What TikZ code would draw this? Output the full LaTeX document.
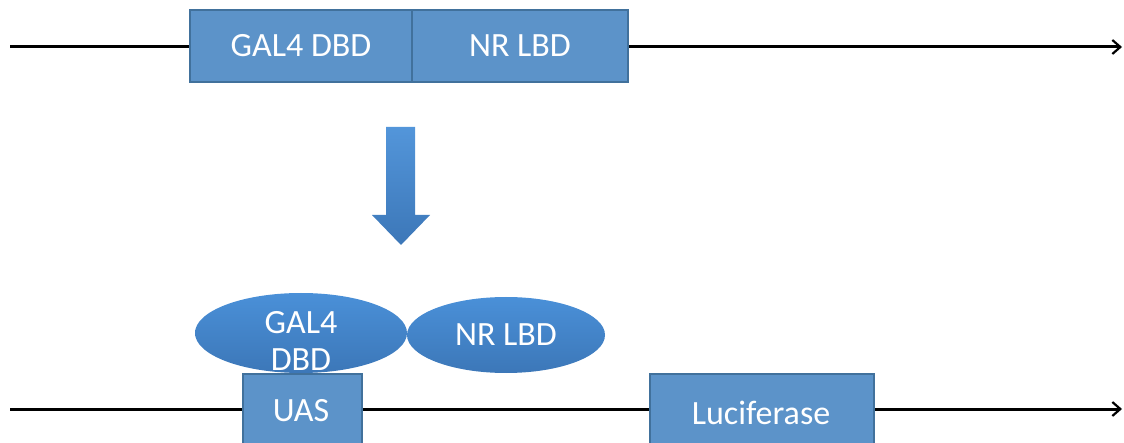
\documentclass[tikz,border=0pt]{standalone}
\usepackage{fontspec}
\setmainfont{Carlito}
\usetikzlibrary{arrows.meta,shapes.geometric}
\definecolor{boxfill}{HTML}{5C93C9}
\definecolor{boxedge}{HTML}{41719C}
\definecolor{elltop}{HTML}{4A90D8}
\definecolor{ellbot}{HTML}{3C77B8}
\tikzset{
  dna/.style={line width=3pt, draw=black, -{Straight Barb[length=8pt,width=14pt,line width=2.2pt]}},
  lab/.style={text=white, font=\fontsize{34}{38}\selectfont},
  gbox/.style={draw=boxedge, line width=1.6pt, fill=boxfill, inner sep=0pt, lab},
  prot/.style={ellipse, top color=elltop, bottom color=ellbot, draw=none, inner sep=0pt, lab, align=center},
}
\begin{document}
\begin{tikzpicture}[x=1pt,y=-1pt]
\useasboundingbox (0,0) rectangle (1124,443);
\clip (0,0) rectangle (1124,443);
% top construct
\coordinate (t0) at (10,47);
\coordinate (t1) at (1122,47);
\draw[dna] (t0) -- (t1);
\node[gbox, minimum width=222pt, minimum height=72pt] (gal) at (301,46) {GAL4 DBD};
\node[gbox, minimum width=216pt, minimum height=72pt] (nr) at (520,46) {NR LBD};
% big arrow
\shade[top color=elltop!95!white, bottom color=ellbot]
  (386,127) -- (415,127) -- (415,215) -- (430,215) -- (401,245) -- (372,215) -- (386,215) -- cycle;
% bottom construct
\coordinate (b0) at (10,409);
\coordinate (b1) at (1122,409);
\draw[dna] (b0) -- (b1);
\node[gbox, minimum width=119pt, minimum height=90pt, anchor=north west] (uas) at (242,373) {};
\node[lab] (uast) at (301,411) {UAS};
\node[gbox, minimum width=224pt, minimum height=90pt, anchor=north west] (luc) at (649,373) {};
\node[lab] (luct) at (761,413) {Luciferase};
\node[prot, minimum width=212pt, minimum height=80pt] (gdbd) at (301,333) {};
\node[lab, align=center] (gdbdt) at (301,341) {GAL4\\[-1pt]DBD};
\node[prot, minimum width=198pt, minimum height=76pt] (nlbd) at (506,335) {NR LBD};
\end{tikzpicture}
\end{document}
